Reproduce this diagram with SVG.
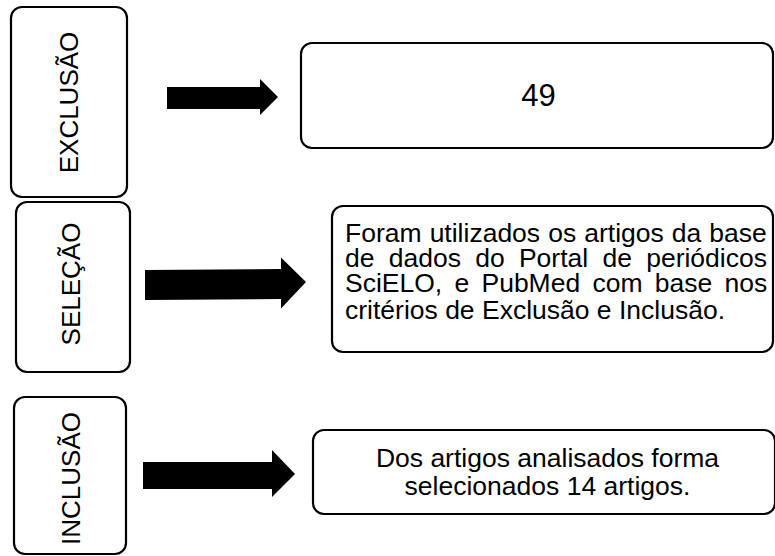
<svg xmlns="http://www.w3.org/2000/svg" width="775" height="556" viewBox="0 0 775 556">
<style>
.box{fill:#fff;stroke:#000;stroke-width:2.2}
.t{font-family:"Liberation Sans",Arial,sans-serif;fill:#000}
.arrow{fill:#000}
</style>
<rect width="775" height="556" fill="#fff"/>
<g id="exclusao">
<rect class="box" x="11" y="7" width="116" height="190" rx="11"/>
<text class="t" font-size="26" text-anchor="middle" transform="translate(78,102.5) rotate(-90)">EXCLUSÃO</text>
</g>
<g id="n49">
<rect class="box" x="301" y="43" width="472" height="105" rx="11"/>
<text class="t" font-size="31" text-anchor="middle" x="538.5" y="106">49</text>
</g>
<g id="selecao">
<rect class="box" x="16" y="202" width="114" height="170" rx="11"/>
<text class="t" font-size="26" text-anchor="middle" transform="translate(80,284) rotate(-90)">SELEÇÃO</text>
</g>
<g id="foram">
<rect class="box" x="332" y="206" width="441" height="146" rx="11"/>
<text class="t" font-size="26.5" x="345" y="242" word-spacing="0.7">Foram utilizados os artigos da base</text>
<text class="t" font-size="26.5" x="345" y="267" word-spacing="6.9">de dados do Portal de periódicos</text>
<text class="t" font-size="26.5" x="345" y="292" word-spacing="4.9">SciELO, e PubMed com base nos</text>
<text class="t" font-size="26.5" x="345" y="319">critérios de Exclusão e Inclusão.</text>
</g>
<g id="inclusao">
<rect class="box" x="14" y="397" width="112" height="157" rx="11"/>
<text class="t" font-size="26" text-anchor="middle" transform="translate(80,478.5) rotate(-90)">INCLUSÃO</text>
</g>
<g id="dos">
<rect class="box" x="313" y="430" width="462" height="84" rx="11"/>
<text class="t" font-size="26.5" text-anchor="middle" x="547.5" y="467">Dos artigos analisados forma</text>
<text class="t" font-size="26.5" text-anchor="middle" x="547.5" y="495">selecionados 14 artigos.</text>
</g>
<g id="connectors">
<polygon class="arrow" points="167,87 260,87 260,79 278,97 260,115 260,109 167,109"/>
<polygon class="arrow" points="145,270 281,269 281,257.5 306,282 281,308.5 281,299 145,300"/>
<polygon class="arrow" points="143,462 272,462 272,450 295,474 272,497 272,489 143,489"/>
</g>
</svg>
